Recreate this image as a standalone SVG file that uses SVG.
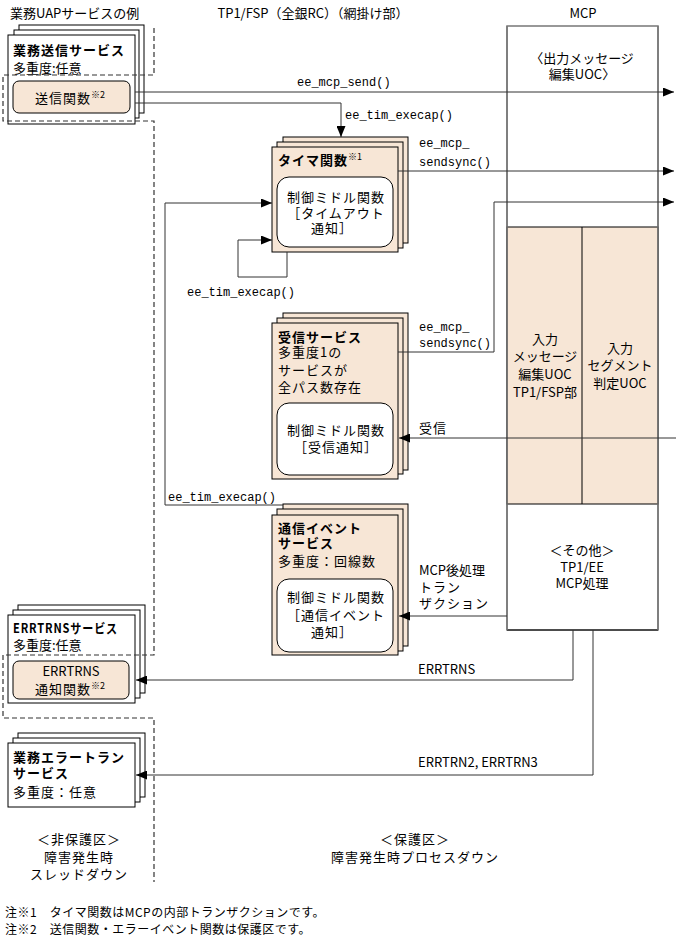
<svg xmlns="http://www.w3.org/2000/svg" width="676" height="944" viewBox="0 0 676 944">
<style>
text{font-family:"Noto Sans CJK JP","Liberation Sans",sans-serif;fill:#000;font-size:13px;letter-spacing:1px}
.b{font-weight:bold}
.s13{font-size:13px;letter-spacing:0}
.m{font-family:"Liberation Mono","DejaVu Sans Mono",monospace;font-size:12px;letter-spacing:0}
.c{text-anchor:middle}
.sup{font-size:9px;letter-spacing:0}
.note{font-size:12px;letter-spacing:0.5px}
.w{fill:#fff;stroke:#000;stroke-width:1}
.p{fill:#F7E6D6;stroke:#000;stroke-width:1}
.ln{fill:none;stroke:#333;stroke-width:1}
.dash{fill:none;stroke:#333;stroke-width:1.2;stroke-dasharray:5,3}
</style>
<defs>
<marker id="arr" markerUnits="userSpaceOnUse" markerWidth="11" markerHeight="9" refX="11" refY="4.5" orient="auto">
<path d="M0,0 L11,4.5 L0,9 z" fill="#000"/>
</marker>
</defs>
<rect width="676" height="944" fill="#fff"/>

<g id="titles">
<text x="10" y="18" class="s13">業務UAPサービスの例</text>
<text x="313" y="18" class="s13 c">TP1/FSP（全銀RC）（網掛け部）</text>
<text x="583" y="18" class="s13 c">MCP</text>
</g>

<g id="mcp">
<rect x="507" y="26" width="151" height="604" fill="#fff" stroke="#777" stroke-width="1.5"/>
<rect x="507" y="227" width="151" height="277" class="p"/>
<line x1="582" y1="227" x2="582" y2="504" stroke="#000"/>
<line x1="507" y1="630" x2="658" y2="630" stroke="#000"/>
<line x1="658" y1="26" x2="658" y2="630" stroke="#777" stroke-width="1.5"/>
<line x1="507" y1="26" x2="507" y2="630" stroke="#777" stroke-width="1.5"/>
<text x="582" y="63" class="s13 c">〈出力メッセージ</text>
<text x="582" y="79" class="s13 c">編集UOC〉</text>
<text x="545" y="344" class="s13 c">入力</text>
<text x="545" y="361" class="s13 c">メッセージ</text>
<text x="545" y="379" class="s13 c">編集UOC</text>
<text x="545" y="397" class="s13 c">TP1/FSP部</text>
<text x="620" y="353" class="s13 c">入力</text>
<text x="620" y="370" class="s13 c">セグメント</text>
<text x="620" y="388" class="s13 c">判定UOC</text>
<text x="582" y="555" class="s13 c">＜その他＞</text>
<text x="582" y="572" class="s13 c">TP1/EE</text>
<text x="582" y="588" class="s13 c">MCP処理</text>
</g>

<g id="send-service">
<rect x="19" y="25" width="125" height="88" class="w"/>
<rect x="14" y="30" width="125" height="88" class="w"/>
<rect x="8" y="35" width="127" height="89" class="w"/>
<text x="13" y="55" class="b">業務送信サービス</text>
<text x="13" y="73" class="s13">多重度:任意</text>
<rect x="13" y="81" width="117" height="32" rx="6" class="p"/>
<text x="70" y="103" class="c">送信関数<tspan class="sup" dy="-5">※2</tspan></text>
</g>

<g id="timer">
<rect x="283" y="137" width="125" height="106" class="p"/>
<rect x="277" y="142" width="126" height="106" class="p"/>
<rect x="272" y="147" width="126" height="105" class="p"/>
<text x="278" y="165" class="b">タイマ関数<tspan class="sup" dy="-5" font-weight="normal">※1</tspan></text>
<rect x="277" y="177" width="116" height="70" rx="12" class="w"/>
<text x="336" y="202" class="c">制御ミドル関数</text>
<text x="336" y="218" class="c">［タイムアウト</text>
<text x="332" y="233" class="c">通知］</text>
</g>

<g id="receive">
<rect x="283" y="313" width="125" height="157" class="p"/>
<rect x="277" y="318" width="126" height="156" class="p"/>
<rect x="272" y="323" width="126" height="156" class="p"/>
<text x="278" y="342" class="b">受信サービス</text>
<text x="278" y="357">多重度1の</text>
<text x="278" y="375">サービスが</text>
<text x="278" y="392">全パス数存在</text>
<rect x="277" y="403" width="116" height="72" rx="12" class="w"/>
<text x="336" y="435" class="c">制御ミドル関数</text>
<text x="336" y="452" class="c">［受信通知］</text>
</g>

<g id="comm-event">
<rect x="283" y="504" width="125" height="142" class="p"/>
<rect x="277" y="509" width="126" height="142" class="p"/>
<rect x="272" y="515" width="126" height="140" class="p"/>
<text x="278" y="533" class="b">通信イベント</text>
<text x="278" y="548" class="b">サービス</text>
<text x="278" y="566">多重度：回線数</text>
<rect x="277" y="579" width="116" height="73" rx="12" class="w"/>
<text x="336" y="602" class="c">制御ミドル関数</text>
<text x="336" y="620" class="c">［通信イベント</text>
<text x="332" y="637" class="c">通知］</text>
</g>

<g id="errtrns-service">
<rect x="18" y="605" width="127" height="88" class="w"/>
<rect x="13" y="610" width="127" height="88" class="w"/>
<rect x="8" y="615" width="127" height="88" class="w"/>
<text x="13" y="633" class="b" textLength="105" lengthAdjust="spacingAndGlyphs">ERRTRNSサービス</text>
<text x="13" y="650" class="s13">多重度:任意</text>
<rect x="13" y="661" width="116" height="38" rx="6" class="p"/>
<text x="71" y="676" class="s13 c">ERRTRNS</text>
<text x="70" y="694" class="c">通知関数<tspan class="sup" dy="-5">※2</tspan></text>
</g>

<g id="error-tran-service">
<rect x="18" y="733" width="127" height="64" class="w"/>
<rect x="13" y="738" width="127" height="64" class="w"/>
<rect x="8" y="743" width="127" height="64" class="w"/>
<text x="13" y="762" class="b">業務エラートラン</text>
<text x="13" y="778" class="b">サービス</text>
<text x="13" y="797">多重度：任意</text>
</g>

<g id="zones">
<path d="M154,28 V75 H3 V121 H154 V655 H3 V718 H154 V882" class="dash"/>
<text x="79" y="844" class="c">＜非保護区＞</text>
<text x="79" y="862" class="c">障害発生時</text>
<text x="79" y="879" class="c">スレッドダウン</text>
<text x="415" y="844" class="c">＜保護区＞</text>
<text x="415" y="862" class="c">障害発生時プロセスダウン</text>
</g>

<g id="connectors">
<path d="M135,92 H674" class="ln" marker-end="url(#arr)"/>
<path d="M135,103 H341 V137" class="ln" marker-end="url(#arr)"/>
<path d="M398,171 H674" class="ln" marker-end="url(#arr)"/>
<path d="M398,352 H494 V202 H674" class="ln" marker-end="url(#arr)"/>
<path d="M287,252 V277 H238 V240 H272" class="ln" marker-end="url(#arr)"/>
<path d="M283,505 H165 V203 H272" class="ln" marker-end="url(#arr)"/>
<path d="M676,438 H399" class="ln" marker-end="url(#arr)"/>
<path d="M507,616 H399" class="ln" marker-end="url(#arr)"/>
<path d="M573,630 V680 H136" class="ln" marker-end="url(#arr)"/>
<path d="M593,630 V775 H136" class="ln" marker-end="url(#arr)"/>
<text x="297" y="86" class="m">ee_mcp_send()</text>
<text x="345" y="119" class="m">ee_tim_execap()</text>
<text x="419" y="147" class="m">ee_mcp_</text>
<text x="419" y="166" class="m">sendsync()</text>
<text x="187" y="296" class="m">ee_tim_execap()</text>
<text x="419" y="331" class="m">ee_mcp_</text>
<text x="419" y="347" class="m">sendsync()</text>
<text x="168" y="501" class="m">ee_tim_execap()</text>
<text x="419" y="433">受信</text>
<text x="419" y="575" class="s13">MCP後処理</text>
<text x="419" y="592">トラン</text>
<text x="419" y="608">ザクション</text>
<text x="418" y="674" class="s13">ERRTRNS</text>
<text x="418" y="767" class="s13">ERRTRN2, ERRTRN3</text>
</g>

<g id="notes">
<text x="5" y="917" class="note">注※1　タイマ関数はMCPの内部トランザクションです。</text>
<text x="5" y="934" class="note">注※2　送信関数・エラーイベント関数は保護区です。</text>
</g>
</svg>
